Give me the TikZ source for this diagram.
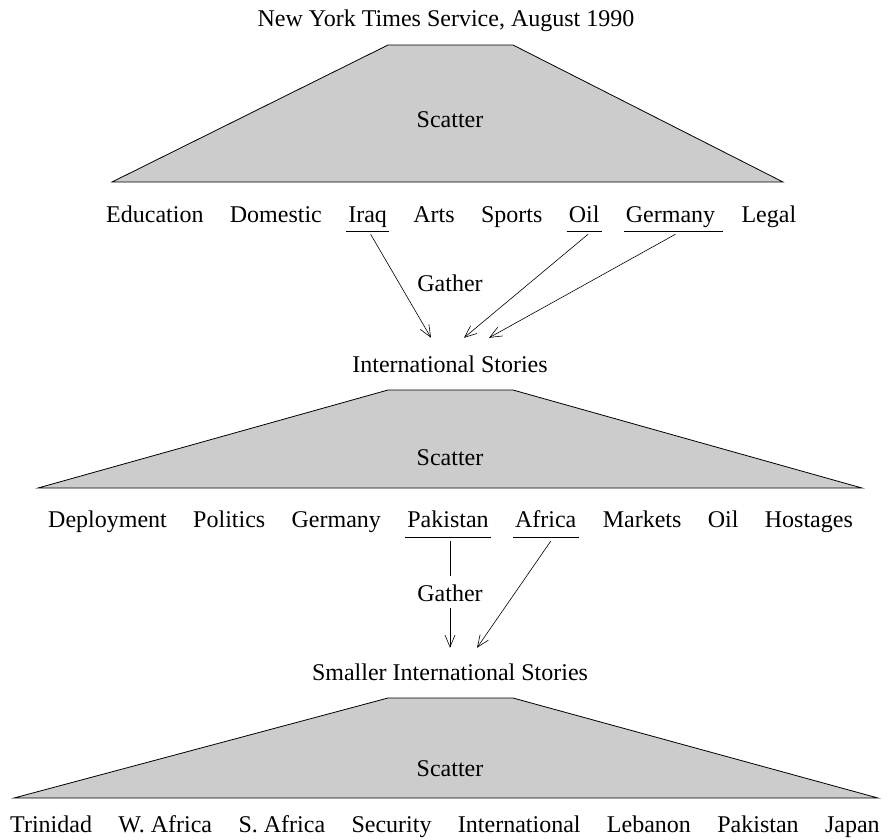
\documentclass[tikz,border=0pt]{standalone}
\usepackage{fontspec}
\setmainfont{Liberation Serif}
\usetikzlibrary{positioning,arrows.meta}
\definecolor{fanfill}{HTML}{CCCCCC}

\begin{document}
\begin{tikzpicture}[
        x=1pt, y=-1pt,
        word/.style={
            inner sep=0pt,
            text height=16pt,
            text depth=5pt,
            font=\fontsize{24}{28}\selectfont
        },
        fan/.style={
            draw=black,
            line width=0.8pt,
            fill=fanfill
        },
        uline/.style={line width=0.8pt},
        gather/.style={
            -{Straight Barb[length=12pt,width=10pt]},
            line width=0.6pt
        },
        node distance=26pt
    ]
    \useasboundingbox (0,0) rectangle (892,839);

    % top level
    \node[word, anchor=base] (nyt) at (446,26) {New York Times Service, August 1990};
    \draw[fan] (112,182) -- (388,45) -- (513,45) -- (783,182) -- cycle;
    \node[word, anchor=base] (sc1) at (450,127) {Scatter};

    \node[word, anchor=base west] (edu) at (106,222) {Education};
    \node[word, base right=of edu] (dom) {Domestic};
    \node[word, base right=of dom] (iraq) {Iraq};
    \node[word, base right=of iraq] (arts) {Arts};
    \node[word, base right=of arts] (sports) {Sports};
    \node[word, base right=of sports] (oil) {Oil};
    \node[word, base right=of oil] (ger) {Germany};
    \node[word, base right=of ger] (legal) {Legal};

    \draw[uline] ([xshift=-2pt,yshift=-4pt]iraq.south west) -- ([xshift=2pt,yshift=-4pt]iraq.south east);
    \draw[uline] ([xshift=-2pt,yshift=-4pt]oil.south west) -- ([xshift=2pt,yshift=-4pt]oil.south east);
    \draw[uline] ([xshift=-2pt,yshift=-4pt]ger.south west) -- ([xshift=8pt,yshift=-4pt]ger.south east);

    \node[word, anchor=base] (gath1) at (450,291) {Gather};
    \node[word, anchor=base] (intl) at (450,372) {International Stories};

    \draw[gather] ([xshift=3pt,yshift=-7pt]iraq.south) -- ([xshift=-19pt,yshift=18pt]intl.north);
    \draw[gather] ([xshift=4pt,yshift=-7pt]oil.south) -- ([xshift=14pt,yshift=18pt]intl.north);
    \draw[gather] ([xshift=5pt,yshift=-7pt]ger.south) -- ([xshift=39pt,yshift=18pt]intl.north);

    % second level
    \draw[fan] (38,488) -- (388,390) -- (513,390) -- (862,488) -- cycle;
    \node[word, anchor=base] (sc2) at (450,465) {Scatter};

    \node[word, anchor=base west] (dep) at (48,527) {Deployment};
    \node[word, base right=of dep] (pol) {Politics};
    \node[word, base right=of pol] (ger2) {Germany};
    \node[word, base right=of ger2] (pak) {Pakistan};
    \node[word, base right=of pak] (afr) {Africa};
    \node[word, base right=of afr] (mkt) {Markets};
    \node[word, base right=of mkt] (oil2) {Oil};
    \node[word, base right=of oil2] (host) {Hostages};

    \draw[uline] ([xshift=-2pt,yshift=-5pt]pak.south west) -- ([xshift=2pt,yshift=-5pt]pak.south east);
    \draw[uline] ([xshift=-2pt,yshift=-5pt]afr.south west) -- ([xshift=2pt,yshift=-5pt]afr.south east);

    \node[word, anchor=base] (gath2) at (450,601) {Gather};
    \node[word, anchor=base] (small) at (450,680) {Smaller International Stories};

    \draw[uline] ([yshift=-9pt]pak.south -| gath2.north) -- ([yshift=9pt]gath2.north);
    \draw[gather] ([yshift=-2pt]gath2.south) -- ([yshift=16pt]small.north);
    \draw[gather] ([xshift=5pt,yshift=-9pt]afr.south) -- ([xshift=27pt,yshift=16pt]small.north);

    % third level
    \draw[fan] (14,798) -- (388,698) -- (513,698) -- (878,798) -- cycle;
    \node[word, anchor=base] (sc3) at (450,776) {Scatter};

    \node[word, anchor=base west] (trin) at (10,832) {Trinidad};
    \node[word, base right=of trin] (wafr) {W. Africa};
    \node[word, base right=of wafr] (safr) {S. Africa};
    \node[word, base right=of safr] (sec) {Security};
    \node[word, base right=of sec] (intern) {International};
    \node[word, base right=of intern] (leb) {Lebanon};
    \node[word, base right=of leb] (pak3) {Pakistan};
    \node[word, base right=of pak3] (jap) {Japan};

    \end{tikzpicture}
\end{document}
